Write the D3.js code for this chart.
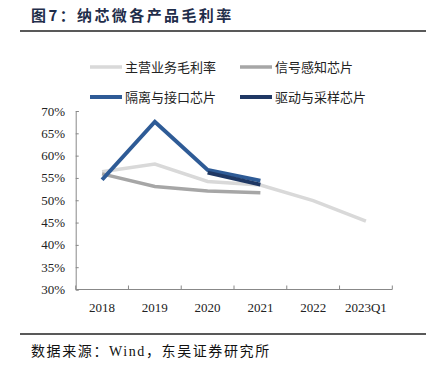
<!DOCTYPE html>
<html>
<head>
<meta charset="utf-8">
<script src="https://cdn.jsdelivr.net/npm/d3@7"></script>
<style>
  body{margin:0;background:#fff;}
  svg{display:block;}
  text{font-family:"Liberation Serif","Noto Sans CJK SC",serif;}
</style>
</head>
<body>
<svg id="chart"></svg>
<script>
const categories = ["2018","2019","2020","2021","2022","2023Q1"];
const mainMargin = [56.4, 58.1, 54.2, 53.4, 49.9, 45.3];
const sensorChip = [55.9, 53.1, 52.1, 51.7, null, null];
const isolationChip = [54.6, 67.6, 56.8, 54.4, null, null];
const driverChip = [null, null, 56.2, 53.5, null, null];
const yTicks = [30, 35, 40, 45, 50, 55, 60, 65, 70];

const series = [
  {name:"主营业务毛利率", values:mainMargin, color:"#d9d9d9", width:3.5},
  {name:"信号感知芯片", values:sensorChip, color:"#a6a6a6", width:3.5},
  {name:"隔离与接口芯片", values:isolationChip, color:"#2e5b96", width:4},
  {name:"驱动与采样芯片", values:driverChip, color:"#1f3864", width:4}
];

const width = 438, height = 375;
const svg = d3.select("#chart").attr("width",width).attr("height",height);

// title
svg.append("text")
  .attr("x",31).attr("y",21)
  .style("font-family","'Noto Sans CJK SC',sans-serif")
  .style("font-size","15px").style("font-weight","bold")
  .style("letter-spacing","2.4px")
  .style("fill","#1f2d4a")
  .text("图7：纳芯微各产品毛利率");
svg.append("line").attr("x1",20).attr("x2",426).attr("y1",31).attr("y2",31)
  .style("stroke","#222").style("stroke-width",1.5);

// source
svg.append("line").attr("x1",20).attr("x2",426).attr("y1",334).attr("y2",334)
  .style("stroke","#222").style("stroke-width",1.5);
svg.append("text").attr("x",31).attr("y",356)
  .style("font-size","14px").style("fill","#111")
  .style("letter-spacing","1.6px")
  .text("数据来源：Wind，东吴证券研究所");

const x = d3.scaleBand().domain(categories).range([75.7,392.3]);
const y = d3.scaleLinear().domain([30,70]).range([289.5,111]);

const g = svg.append("g");

// y axis
const yAxis = g.append("g").attr("transform","translate(75.7,0)")
  .call(d3.axisRight(y).tickValues(yTicks).tickSize(3).tickFormat(""));
yAxis.select(".domain").style("stroke","#888");
yAxis.selectAll(".tick line").style("stroke","#888");
g.selectAll(".ylab").data(yTicks).join("text")
  .attr("class","ylab")
  .attr("x",65).attr("y",d=>y(d)+4.5)
  .attr("text-anchor","end")
  .style("font-size","13px").style("fill","#222")
  .text(d=>d+"%");

// x axis
const xAxis = g.append("g").attr("transform","translate(0,289.5)");
xAxis.append("line").attr("x1",75.7).attr("x2",392.3)
  .style("stroke","#888");
const bounds = categories.map(c=>x(c)).concat([x.range()[1]]);
xAxis.selectAll(".xt").data(bounds).join("line")
  .attr("x1",d=>d).attr("x2",d=>d).attr("y1",0).attr("y2",-4)
  .style("stroke","#888");
xAxis.selectAll(".xlab").data(categories).join("text")
  .attr("x",d=>x(d)+x.bandwidth()/2).attr("y",22)
  .attr("text-anchor","middle")
  .style("font-size","13px").style("fill","#222")
  .text(d=>d);

// lines
const line = d3.line()
  .defined(d=>d.v!=null)
  .x(d=>x(d.c)+x.bandwidth()/2)
  .y(d=>y(d.v));

series.forEach(s=>{
  const pts = categories.map((c,i)=>({c:c,v:s.values[i]}));
  g.append("path").datum(pts)
    .attr("d",line)
    .style("fill","none")
    .style("stroke",s.color)
    .style("stroke-width",s.width)
    .style("stroke-linejoin","miter");
});

// legend
const legPos = [[90,67],[240,67],[90,97],[240,97]];
const leg = svg.append("g");
series.forEach((s,i)=>{
  const [lx,ly] = legPos[i];
  leg.append("line").attr("x1",lx).attr("x2",lx+32).attr("y1",ly).attr("y2",ly)
    .style("stroke",s.color).style("stroke-width",s.width);
  leg.append("text").attr("x",lx+35).attr("y",ly+4.5)
    .style("font-size","13px").style("fill","#222")
    .text(s.name);
});
</script>
</body>
</html>
